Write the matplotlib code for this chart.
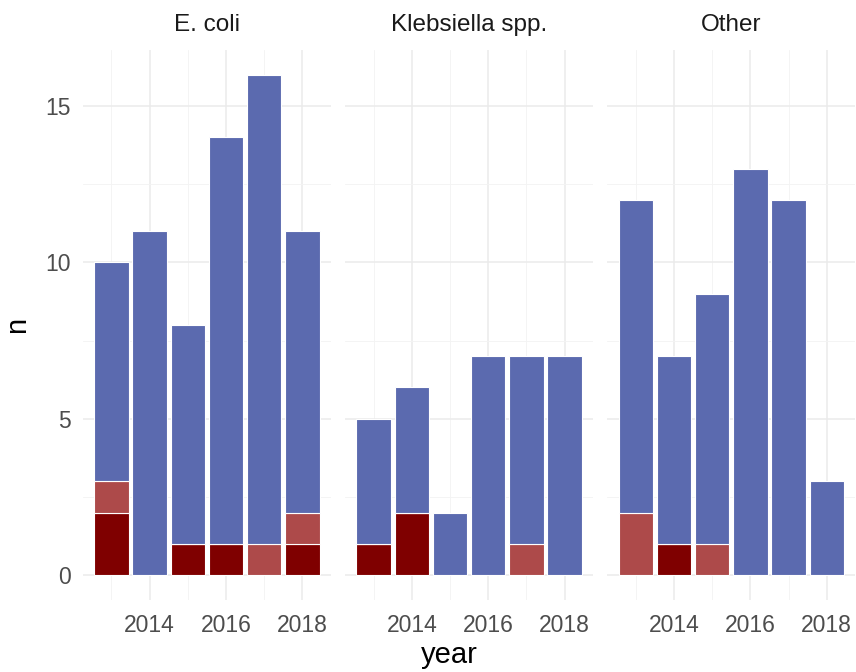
import numpy as np
import matplotlib.pyplot as plt

plt.rcParams['font.family'] = ['Liberation Sans', 'DejaVu Sans']

years = [2013, 2014, 2015, 2016, 2017, 2018]
groups = ["E. coli", "Klebsiella spp.", "Other"]

# counts per year, stacked bottom -> top
dark_red = {
    "E. coli":         [2, 0, 1, 1, 0, 1],
    "Klebsiella spp.": [1, 2, 0, 0, 0, 0],
    "Other":           [0, 1, 0, 0, 0, 0],
}
light_red = {
    "E. coli":         [1, 0, 0, 0, 1, 1],
    "Klebsiella spp.": [0, 0, 0, 0, 1, 0],
    "Other":           [2, 0, 1, 0, 0, 0],
}
blue = {
    "E. coli":         [7, 11, 7, 13, 15, 9],
    "Klebsiella spp.": [4, 4, 2, 7, 6, 7],
    "Other":           [10, 6, 8, 13, 12, 3],
}

colors = ["#7F0000", "#AD4A4A", "#5B6AAF"]

fig, axes = plt.subplots(1, 3, figsize=(8.56, 6.72), dpi=100, sharey=True)
fig.subplots_adjust(left=0.097, right=0.999, bottom=0.107, top=0.926, wspace=0.058)

for ax, g in zip(axes, groups):
    x = np.array(years)
    bottom = np.zeros(len(years))
    for vals, c in zip([dark_red[g], light_red[g], blue[g]], colors):
        v = np.array(vals)
        ax.bar(x, v, width=0.9, bottom=bottom, color=c, edgecolor="white",
               linewidth=0.8, zorder=3)
        bottom += v
    ax.set_xlim(2012.255, 2018.745)
    ax.set_ylim(-0.8, 16.8)
    ax.set_xticks([2014, 2016, 2018])
    ax.set_xticks([2013, 2015, 2017], minor=True)
    ax.set_yticks([0, 5, 10, 15])
    ax.set_yticks([2.5, 7.5, 12.5], minor=True)
    ax.grid(True, which="major", color="#EBEBEB", linewidth=1.1, zorder=0)
    ax.grid(True, which="minor", color="#F3F3F3", linewidth=0.6, zorder=0)
    for s in ax.spines.values():
        s.set_visible(False)
    ax.tick_params(which="both", length=0, labelsize=16.5, labelcolor="#4D4D4D")
    ax.tick_params(axis="x", pad=10)
    ax.tick_params(axis="y", pad=9)
    ax.text(0.5, 1.045, g, transform=ax.transAxes, ha="center", va="center",
            fontsize=17.5, color="#1A1A1A")

fig.text(0.02, 0.516, "n", rotation=90, ha="center", va="center", fontsize=21)
fig.text(0.525, 0.025, "year", ha="center", va="center", fontsize=21)

fig.savefig("out.png", dpi=100, facecolor="white")
